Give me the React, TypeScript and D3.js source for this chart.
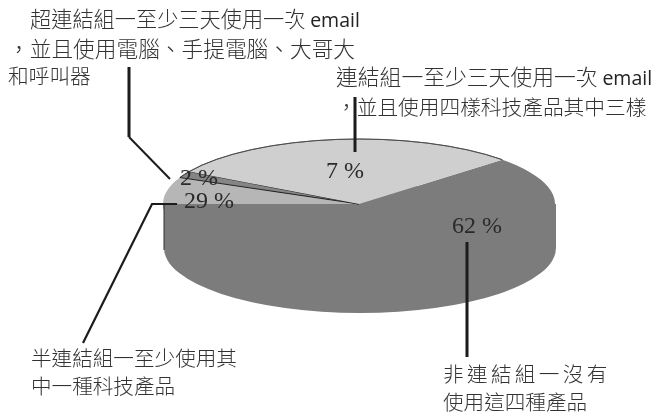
import React from "react";
import * as d3 from "d3";

const sliceLabels = ["62 %", "29 %", "2 %", "7 %"];
// angular extent as actually drawn in the picture (degrees), not the printed label
const drawnDegrees = [223, 24, 6, 107];
const sliceColors = ["#7c7c7c", "#b6b6b6", "#858585", "#cfcfcf"];
const startDegree = 47;

const captionA = ["超連結組一至少三天使用一次 ", "，並且使用電腦、手提電腦、大哥大", "和呼叫器"];
const captionB = ["連結組一至少三天使用一次 ", "，並且使用四樣科技產品其中三樣"];
const captionC = ["半連結組一至少使用其", "中一種科技產品"];
const captionD = ["非 連 結 組 一 沒 有", "使用這四種產品"];
const emailWord = "email";

const cx = 360, cy = 204, rx = 196, ry = 65, depth = 44;
const cjk = "'Noto Sans CJK TC', 'Noto Sans', sans-serif";

function Cap({ x, y, size, text, email, wordSpacing }: { x: number; y: number; size: number; text: string; email?: boolean; wordSpacing?: number }) {
  return (
    <text x={x} y={y} fontFamily={cjk} fontWeight={300} fontSize={size} fill="#333" wordSpacing={wordSpacing}>
      {text}
      {email ? <tspan fontFamily="'Open Sans', sans-serif" fontWeight={400} fontSize={19.5} fill="#222">{emailWord}</tspan> : null}
    </text>
  );
}

export default function App() {
  const pie = d3.pie<number>().sort(null).value(d => d)
    .startAngle((startDegree * Math.PI) / 180)
    .endAngle(((startDegree + 360) * Math.PI) / 180);
  const arcs = pie(drawnDegrees);
  const arc = d3.arc<d3.PieArcDatum<number>>().innerRadius(0).outerRadius(1);
  const leader = d3.line();
  const stroke = "#1c1c1c";
  const labelPos: [number, number][] = [[452, 233], [184, 208], [180, 185], [326, 178]];
  return (
    <svg width={651} height={415} style={{ position: "absolute", left: 0, top: 0, background: "#fff" }}>
      <defs>
        <filter id="soft" x="-5%" y="-5%" width="110%" height="110%"><feGaussianBlur stdDeviation="0.45" /></filter>
      </defs>
      <g filter="url(#soft)">
        <ellipse cx={cx} cy={cy + depth} rx={rx} ry={ry} fill={sliceColors[0]} />
        <rect x={cx - rx} y={cy} width={2 * rx} height={depth} fill={sliceColors[0]} />
        <g transform={`translate(${cx - 1},${cy}) scale(${rx},${ry})`}>
          {arcs.map((a, i) => (
            <path key={i} d={arc(a) || ""} fill={sliceColors[i]}
              stroke={i === 2 ? "#222" : "none"} strokeWidth={1} vectorEffect="non-scaling-stroke" />
          ))}
          <path d={d3.arc<any>().innerRadius(1).outerRadius(1)({ startAngle: arcs[3].startAngle, endAngle: arcs[3].endAngle }) || ""}
            fill="none" stroke="#444" strokeWidth={0.8} vectorEffect="non-scaling-stroke" />
        </g>
        <path d={leader([[164, 205], [164, 250]]) || ""} stroke="#333" strokeWidth={1} fill="none" />
        {sliceLabels.map((t, i) => (
          <text key={t} x={labelPos[i][0]} y={labelPos[i][1]} fontFamily="'Liberation Serif', serif" fontSize={24} fill="#2a2a2a">{t}</text>
        ))}
        <Cap x={30} y={27} size={21.2} text={captionA[0]} email />
        <Cap x={8} y={57} size={21.7} text={captionA[1]} />
        <Cap x={8} y={84} size={20.7} text={captionA[2]} />
        <Cap x={336} y={85} size={21.8} text={captionB[0]} email />
        <Cap x={336} y={115} size={20.7} text={captionB[1]} />
        <Cap x={31} y={366} size={20.6} text={captionC[0]} />
        <Cap x={31} y={394} size={20.6} text={captionC[1]} />
        <Cap x={443} y={382} size={20.6} text={captionD[0]} wordSpacing={-1.2} />
        <Cap x={443} y={410} size={20.6} text={captionD[1]} />
        <path d={leader([[129, 67], [129, 137]]) || ""} stroke={stroke} strokeWidth={3} fill="none" />
        <path d={leader([[129, 137], [170, 179]]) || ""} stroke={stroke} strokeWidth={2} fill="none" />
        <path d={leader([[355, 97], [355, 152]]) || ""} stroke={stroke} strokeWidth={3} fill="none" />
        <path d={leader([[177, 204], [152, 204], [83, 343]]) || ""} stroke={stroke} strokeWidth={2.2} fill="none" />
        <path d={leader([[467, 242], [467, 357]]) || ""} stroke={stroke} strokeWidth={3} fill="none" />
      </g>
    </svg>
  );
}
